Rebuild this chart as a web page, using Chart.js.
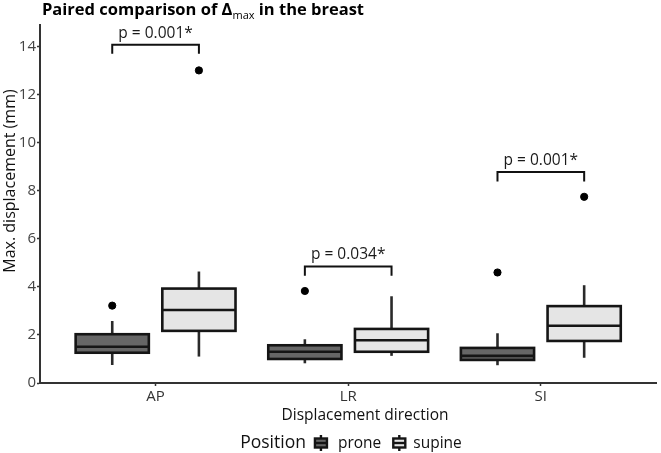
<!DOCTYPE html>
<html><head><meta charset="utf-8">
<script src="https://cdn.jsdelivr.net/npm/chart.js@4"></script>
<style>html,body{margin:0;padding:0;background:#fff}#wrap{width:661px;height:453px;position:relative}</style>
</head><body><div id="wrap"><canvas id="c"></canvas></div>
<script>
// ---- data ----
const categories = ['AP', 'LR', 'SI'];
const seriesNames = ['prone', 'supine'];
const yTicks = [0, 2, 4, 6, 8, 10, 12, 14];

const proneMin    = [0.75, 0.82, 0.74];
const proneQ1     = [1.26, 1.00, 0.96];
const proneMedian = [1.51, 1.30, 1.13];
const proneQ3     = [2.03, 1.57, 1.46];
const proneMax    = [2.58, 1.82, 2.07];
const proneOutliers = [[3.22], [3.83], [4.60]];

const supineMin    = [1.10, 1.13, 1.05];
const supineQ1     = [2.17, 1.30, 1.75];
const supineMedian = [3.04, 1.78, 2.38];
const supineQ3     = [3.93, 2.25, 3.20];
const supineMax    = [4.64, 3.61, 4.07];
const supineOutliers = [[13.01], [], [7.75]];

const pLabels = ['p = 0.001*', 'p = 0.034*', 'p = 0.001*'];
const bracketTop = [14.08, 4.85, 8.78];
const bracketLeg = [13.70, 4.46, 8.39];

const xTitle = 'Displacement direction';
const yTitle = 'Max. displacement (mm)';
const legendTitle = 'Position';

// ---- styles ----
const FONT = "'Open Sans', 'Noto Sans', sans-serif";
const dodge = 0.225, boxW = 0.38;
const fills = ['#666666', '#e5e5e5'];
const lineCol = '#151515';

const stats = [
  {min: proneMin, q1: proneQ1, med: proneMedian, q3: proneQ3, max: proneMax, out: proneOutliers},
  {min: supineMin, q1: supineQ1, med: supineMedian, q3: supineQ3, max: supineMax, out: supineOutliers}
];

function outlierData(s) {
  const arr = [];
  stats[s].out.forEach((vals, i) => vals.forEach(v => arr.push({x: i + 1 + (s === 0 ? -dodge : dodge), y: v})));
  return arr;
}

const boxPlugin = {
  id: 'boxes',
  beforeDatasetsDraw(chart) {
    const ctx = chart.ctx, xs = chart.scales.x, ys = chart.scales.y;
    const hw = (xs.getPixelForValue(boxW) - xs.getPixelForValue(0)) / 2;
    ctx.save();
    stats.forEach((st, s) => {
      categories.forEach((c, i) => {
        const cx = xs.getPixelForValue(i + 1 + (s === 0 ? -dodge : dodge));
        const yMin = ys.getPixelForValue(st.min[i]), yQ1 = ys.getPixelForValue(st.q1[i]);
        const yMed = ys.getPixelForValue(st.med[i]), yQ3 = ys.getPixelForValue(st.q3[i]);
        const yMax = ys.getPixelForValue(st.max[i]);
        ctx.strokeStyle = '#2a2a2a'; ctx.lineWidth = 2.6;
        ctx.beginPath(); ctx.moveTo(cx, yMin); ctx.lineTo(cx, yMax); ctx.stroke();
        ctx.strokeStyle = lineCol; ctx.lineWidth = 2.6;
        ctx.fillStyle = fills[s];
        ctx.fillRect(cx - hw, yQ3, 2 * hw, yQ1 - yQ3);
        ctx.strokeRect(cx - hw, yQ3, 2 * hw, yQ1 - yQ3);
        ctx.beginPath(); ctx.moveTo(cx - hw, yMed); ctx.lineTo(cx + hw, yMed); ctx.stroke();
      });
    });
    ctx.restore();
  },
  afterDraw(chart) {
    const ctx = chart.ctx, xs = chart.scales.x, ys = chart.scales.y;
    ctx.save();
    // brackets
    ctx.strokeStyle = '#111'; ctx.lineWidth = 2;
    ctx.fillStyle = '#1a1a1a'; ctx.font = '15.5px ' + FONT; ctx.textAlign = 'center'; ctx.textBaseline = 'alphabetic';
    categories.forEach((c, i) => {
      const x1 = xs.getPixelForValue(i + 1 - dodge), x2 = xs.getPixelForValue(i + 1 + dodge);
      const yt = ys.getPixelForValue(bracketTop[i]), yl = ys.getPixelForValue(bracketLeg[i]);
      ctx.beginPath(); ctx.moveTo(x1, yl); ctx.lineTo(x1, yt); ctx.lineTo(x2, yt); ctx.lineTo(x2, yl); ctx.stroke();
      ctx.fillText(pLabels[i], (x1 + x2) / 2, yt - 7);
    });
    // axis titles
    ctx.fillStyle = '#111';
    ctx.font = '15.5px ' + FONT; ctx.textAlign = 'center'; ctx.textBaseline = 'middle';
    ctx.fillText(xTitle, 365, 416);
    ctx.save();
    ctx.translate(10, 181); ctx.rotate(-Math.PI / 2);
    ctx.font = '16px ' + FONT;
    ctx.fillText(yTitle, 0, 0);
    ctx.restore();
    // title
    ctx.textAlign = 'left'; ctx.textBaseline = 'alphabetic'; ctx.fillStyle = '#000';
    let tx = 42;
    const ty = 15;
    ctx.font = 'bold 16.5px ' + FONT;
    const t1 = 'Paired comparison of \u0394';
    ctx.fillText(t1, tx, ty); tx += ctx.measureText(t1).width;
    ctx.font = '11px ' + FONT;
    ctx.fillText('max', tx, ty + 4); tx += ctx.measureText('max').width;
    ctx.font = 'bold 16.5px ' + FONT;
    ctx.fillText(' in the breast', tx, ty);
    // legend
    const titleFont = '17.5px ' + FONT, labFont = '15.5px ' + FONT;
    ctx.fillStyle = '#111';
    ctx.font = titleFont;
    const wPos = ctx.measureText(legendTitle).width;
    ctx.font = labFont;
    const wP = ctx.measureText(seriesNames[0]).width, wS = ctx.measureText(seriesNames[1]).width;
    const keyW = 12;
    const total = wPos + 9 + keyW + 11 + wP + 12 + keyW + 8 + wS;
    let lx = 351 - total / 2;
    const ly = 448;
    ctx.font = titleFont;
    ctx.fillText(legendTitle, lx, ly); lx += wPos + 9;
    const drawKey = (x, fill) => {
      ctx.strokeStyle = lineCol; ctx.lineWidth = 2.4;
      ctx.beginPath(); ctx.moveTo(x + keyW / 2, 435); ctx.lineTo(x + keyW / 2, 451); ctx.stroke();
      ctx.fillStyle = fill; ctx.fillRect(x, 438.5, keyW, 9); ctx.strokeRect(x, 438.5, keyW, 9);
      ctx.beginPath(); ctx.moveTo(x, 443); ctx.lineTo(x + keyW, 443); ctx.stroke();
      ctx.fillStyle = '#111';
    };
    ctx.font = labFont;
    drawKey(lx, fills[0]); lx += keyW + 11;
    ctx.fillText(seriesNames[0], lx, ly); lx += wP + 12;
    drawKey(lx, fills[1]); lx += keyW + 8;
    ctx.fillText(seriesNames[1], lx, ly);
    ctx.restore();
  }
};

new Chart(document.getElementById('c'), {
  type: 'scatter',
  data: {
    datasets: seriesNames.map((n, s) => ({
      label: n,
      data: outlierData(s),
      backgroundColor: '#000', borderColor: '#000', pointRadius: 3.6, pointHoverRadius: 3.6
    }))
  },
  options: {
    responsive: true, maintainAspectRatio: false, animation: false,
    layout: {padding: {left: 0, top: 25, right: 1, bottom: 30}},
    plugins: {legend: {display: false}, tooltip: {enabled: false}, title: {display: false}},
    scales: {
      x: {
        type: 'linear', min: 0.4, max: 3.6,
        afterBuildTicks: sc => { sc.ticks = categories.map((c, i) => ({value: i + 1})); },
        afterFit: sc => { sc.height = 40; },
        ticks: {callback: v => categories[v - 1], font: {family: FONT, size: 15}, color: '#333', padding: 2, maxRotation: 0},
        grid: {display: true, drawOnChartArea: false, drawTicks: true, tickLength: 3, color: '#333', tickWidth: 1.5},
        border: {display: true, color: '#333', width: 2},
        title: {display: false}
      },
      y: {
        min: 0, max: 14.9,
        afterBuildTicks: sc => { sc.ticks = yTicks.map(v => ({value: v})); },
        afterFit: sc => { sc.width = 40; },
        ticks: {font: {family: FONT, size: 15}, color: '#444', padding: 1},
        grid: {display: true, drawOnChartArea: false, drawTicks: true, tickLength: 3, color: '#333', tickWidth: 1.5},
        border: {display: true, color: '#333', width: 2},
        title: {display: false}
      }
    }
  },
  plugins: [boxPlugin]
});
</script>
</body></html>
